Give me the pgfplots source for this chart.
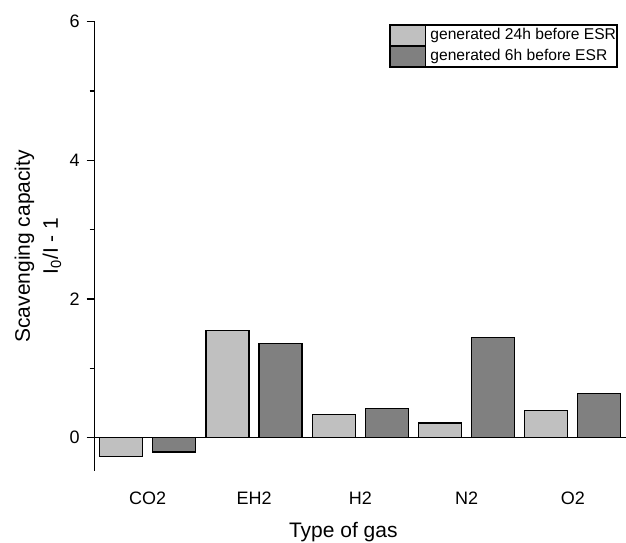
\documentclass[border=0pt]{standalone}
\usepackage{pgfplots}
\pgfplotsset{compat=1.18}
\usepackage{fontspec}
\setmainfont{Liberation Sans}
\definecolor{lightbar}{RGB}{192,192,192}
\definecolor{darkbar}{RGB}{128,128,128}
\begin{document}
\begin{tikzpicture}
\path[use as bounding box] (-47.3pt,-35.6pt) rectangle (265.7pt,235.4pt);
\begin{axis}[
  scale only axis,
  width=265.7pt, height=224.5pt,
  xmin=-0.5, xmax=4.5,
  ymin=-0.48, ymax=6,
  enlargelimits=false,
  axis lines*=left,
  x axis line style={draw=none},
  y axis line style={line width=0.7pt},
  xtick={0,1,2,3,4},
  xticklabels={CO2,EH2,H2,N2,O2},
  xtick style={draw=none},
  ytick={0,2,4,6},
  minor ytick={1,3,5},
  tick align=outside,
  major tick length=4pt,
  minor tick length=2.5pt,
  y tick style={line width=0.7pt, black},
  /pgf/number format/assume math mode=true,
  tick label style={font=\fontsize{9}{10}\selectfont},
  xticklabel style={yshift=-3pt},
  xlabel={Type of gas},
  xlabel style={at={(axis description cs:0.468,0)}, anchor=north, yshift=-22pt, font=\fontsize{10.5}{12}\selectfont},
  ylabel={Scavenging capacity\\[2pt]I\textsubscript{0}/I - 1},
  ylabel style={at={(axis description cs:-0.1066,0.5)}, anchor=center, align=center, font=\fontsize{10.5}{12}\selectfont},
  ybar=5pt,
  bar width=21.5pt,
  legend style={at={(axis description cs:0.5544,0.995)}, anchor=north west,
    draw=black, line width=0.8pt, inner sep=0pt, row sep=0pt,
    nodes={inner sep=0.6pt},
    font=\fontsize{7.8}{9}\selectfont, legend cell align=left},
  legend image code/.code={\draw[#1, line width=0.6pt] (0pt,-5pt) rectangle (17.5pt,5pt); \path (19pt,0pt);},
  clip=false,
]
\addplot[fill=lightbar, draw=black, line width=0.6pt] coordinates {(0,-0.27) (1,1.54) (2,0.33) (3,0.21) (4,0.39)};
\addplot[fill=darkbar, draw=black, line width=0.6pt] coordinates {(0,-0.21) (1,1.36) (2,0.42) (3,1.44) (4,0.63)};
\legend{generated 24h before ESR, generated 6h before ESR}
\draw[line width=0.7pt] (axis cs:-0.5,0) -- (axis cs:4.5,0);
\end{axis}
\end{tikzpicture}
\end{document}
